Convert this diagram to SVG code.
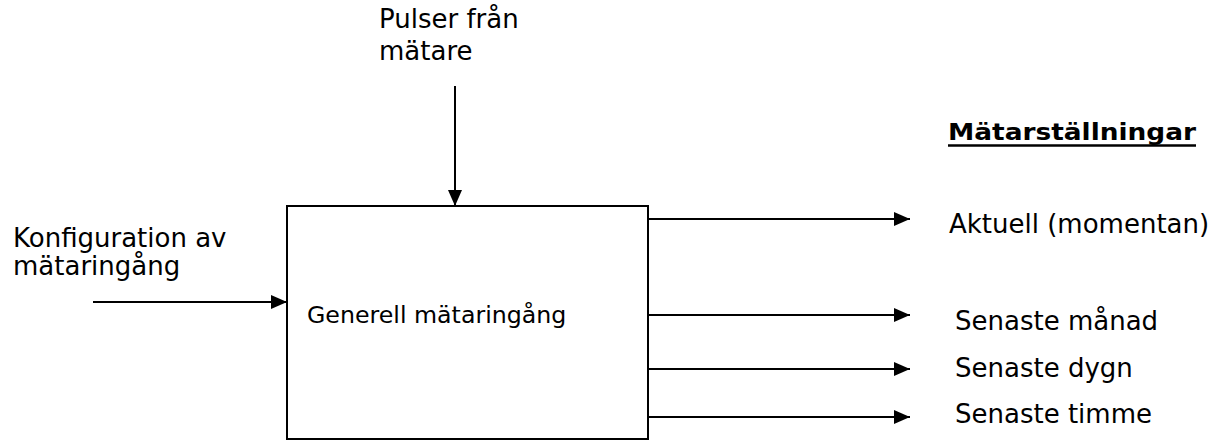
<svg xmlns="http://www.w3.org/2000/svg" width="1226" height="441" viewBox="0 0 1226 441">
<style>
.t{font-family:"DejaVu Sans",Verdana,sans-serif;font-size:26px;fill:#000}
.s{font-size:23.7px}
.b{font-weight:bold;font-size:23.5px}
.ln{stroke:#000;stroke-width:2;fill:none}
</style>
<defs>
<marker id="ah" markerWidth="16" markerHeight="14" refX="16" refY="7" orient="auto" markerUnits="userSpaceOnUse">
<path d="M0,0 L16,7 L0,14 Z" fill="#000"/>
</marker>
</defs>
<rect width="1226" height="441" fill="#fff"/>
<g id="connectors">
<line class="ln" x1="455" y1="86" x2="455" y2="206" marker-end="url(#ah)"/>
<line class="ln" x1="93" y1="302" x2="287" y2="302" marker-end="url(#ah)"/>
<line class="ln" x1="648" y1="219" x2="910" y2="219" marker-end="url(#ah)"/>
<line class="ln" x1="648" y1="315" x2="910" y2="315" marker-end="url(#ah)"/>
<line class="ln" x1="648" y1="369" x2="910" y2="369" marker-end="url(#ah)"/>
<line class="ln" x1="648" y1="417" x2="910" y2="417" marker-end="url(#ah)"/>
</g>
<g id="box">
<rect class="ln" x="287" y="206" width="361" height="233"/>
<text class="t s" x="307" y="323">Generell mätaringång</text>
</g>
<g id="pulser">
<text class="t" x="379" y="28">Pulser från</text>
<text class="t" x="379" y="60">mätare</text>
</g>
<g id="konfig">
<text class="t" x="13" y="247">Konfiguration av</text>
<text class="t" x="13" y="275">mätaringång</text>
</g>
<g id="heading">
<text class="t b" x="948" y="140" textLength="248" lengthAdjust="spacingAndGlyphs">Mätarställningar</text>
<line x1="948" y1="145.5" x2="1196" y2="145.5" stroke="#000" stroke-width="2.5"/>
</g>
<g id="outputs">
<text class="t" x="949" y="233">Aktuell (momentan)</text>
<text class="t" x="955" y="330">Senaste månad</text>
<text class="t" x="955" y="377">Senaste dygn</text>
<text class="t" x="955" y="423">Senaste timme</text>
</g>
</svg>
